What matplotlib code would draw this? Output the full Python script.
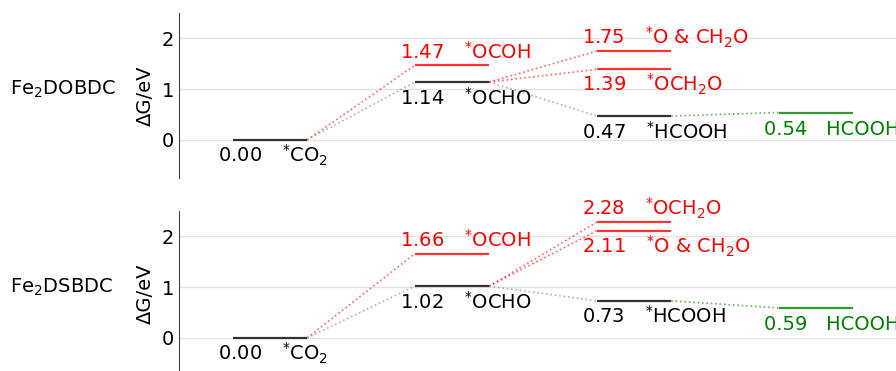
import matplotlib.pyplot as plt

# Daten: Reaktionspfad CO2 -> HCOOH fuer zwei MOFs
panel_names = ["Fe$_2$DOBDC", "Fe$_2$DSBDC"]
species = ["$^*\\!$CO$_2$", "$^*\\!$OCOH", "$^*\\!$OCHO", "$^*\\!$O & CH$_2$O",
           "$^*\\!$OCH$_2$O", "$^*\\!$HCOOH", "HCOOH"]
steps = [0, 1, 1, 2, 2, 2, 3]
energies_dobdc = [0.00, 1.47, 1.14, 1.75, 1.39, 0.47, 0.54]
energies_dsbdc = [0.00, 1.66, 1.02, 2.11, 2.28, 0.73, 0.59]
species_colors = ["black", "red", "black", "red", "red", "black", "green"]
connections = [(0, 1), (0, 2), (2, 3), (2, 4), (2, 5), (5, 6)]

# wo das Label steht (ueber/unter dem Niveau)
label_pos_dobdc = ["below", "above", "below", "above", "below", "below", "below"]
label_pos_dsbdc = ["below", "above", "below", "below", "above", "below", "below"]

all_energies = [energies_dobdc, energies_dsbdc]
all_label_pos = [label_pos_dobdc, label_pos_dsbdc]

half = 0.204
fs = 14

fig = plt.figure(figsize=(8.96, 3.71), dpi=100)
W, H = 896, 371
axes_px = [(179, 13, 178), (179, 211, 376)]  # links, oben, unten in Pixel

for k in range(2):
    left, top, bottom = axes_px[k]
    ax = fig.add_axes([left / W, 1 - bottom / H, (W - left) / W, (bottom - top) / H])
    energies = all_energies[k]
    label_pos = all_label_pos[k]

    # Verbindungslinien (gepunktet)
    for a, b in connections:
        c = "gray" if species_colors[b] == "black" else species_colors[b]
        ax.plot([steps[a] + half, steps[b] - half], [energies[a], energies[b]],
                ls=":", color=c, lw=1.2, alpha=0.6, zorder=2)

    # Energieniveaus + Beschriftung
    for i in range(len(species)):
        c = species_colors[i]
        lc = "#333333" if c == "black" else c
        ax.plot([steps[i] - half, steps[i] + half], [energies[i], energies[i]],
                color=lc, lw=1.6, alpha=0.8 if c != "black" else 1, zorder=3,
                solid_capstyle="butt")
        dy = 0.13 if label_pos[i] == "above" else -0.44
        ax.text(steps[i] - half - 0.083, energies[i] + dy,
                "%.2f   %s" % (energies[i], species[i]),
                color=c, fontsize=fs, ha="left", va="baseline")

    ax.set_xlim(-0.5, (W - left) / 182 - 0.5)
    ax.set_ylim(-0.75, 2.5)
    ax.set_yticks([0, 1, 2])
    ax.set_xticks([])
    ax.tick_params(axis="y", length=0, pad=3.5, labelsize=fs)
    ax.grid(axis="y", color="#e3e3e3", lw=1)
    ax.set_axisbelow(True)
    for s in ["top", "right", "bottom"]:
        ax.spines[s].set_visible(False)
    ax.spines["left"].set_color("#444444")
    ax.set_ylabel("ΔG/eV", fontsize=fs, labelpad=5)
    ax.text(-0.236, 1.0, panel_names[k], transform=ax.get_yaxis_transform(),
            fontsize=fs, ha="left", va="center")

plt.savefig("out.png", dpi=100)
